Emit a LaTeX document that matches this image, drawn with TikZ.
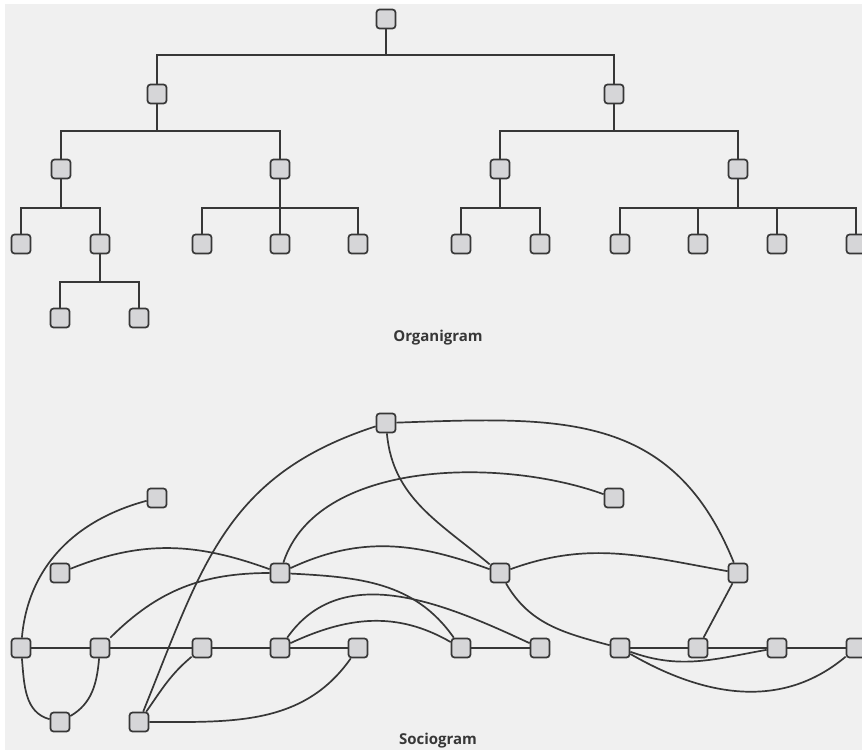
\documentclass[tikz,border=0pt]{standalone}
\usepackage{fontspec}
\newfontfamily\captionfont{Open Sans}
\definecolor{diagbg}{RGB}{240,240,240}
\definecolor{diagfill}{RGB}{214,214,216}
\definecolor{diagline}{RGB}{55,55,55}
\tikzset{
  member/.style={draw=diagline, fill=diagfill, rounded corners=3pt, minimum size=19pt, inner sep=0pt, line width=1.7pt},
  tie/.style={draw=diagline, line width=1.7pt},
  title/.style={font=\captionfont\bfseries\fontsize{15}{18}\selectfont, text=diagline, anchor=base}
}
\begin{document}
\begin{tikzpicture}[x=1pt, y=1pt]
  \useasboundingbox (0,0) rectangle (862,-750);
  \fill[diagbg] (5,-4) rectangle (862,-750);

  % organigram
  \node[member] (root) at (386,-19) {};
  \node[member] (o1) at (157,-94) {};
  \node[member] (o2) at (614,-94) {};
  \node[member] (o11) at (61,-169) {};
  \node[member] (o12) at (280,-169) {};
  \node[member] (o21) at (500,-169) {};
  \node[member] (o22) at (738,-169) {};
  \node[member] (o111) at (21,-244) {};
  \node[member] (o112) at (100,-244) {};
  \node[member] (o121) at (202,-244) {};
  \node[member] (o122) at (280,-244) {};
  \node[member] (o123) at (358,-244) {};
  \node[member] (o211) at (461,-244) {};
  \node[member] (o212) at (540,-244) {};
  \node[member] (o221) at (620,-244) {};
  \node[member] (o222) at (698,-244) {};
  \node[member] (o223) at (777,-244) {};
  \node[member] (o224) at (856,-244) {};
  \node[member] (o1121) at (60,-318) {};
  \node[member] (o1122) at (139,-318) {};

  \draw[tie] (root) -- ++(0,-36) -| (o1);
  \draw[tie] (root) -- ++(0,-36) -| (o2);
  \draw[tie] (o1) -- ++(0,-37) -| (o11);
  \draw[tie] (o1) -- ++(0,-37) -| (o12);
  \draw[tie] (o2) -- ++(0,-37) -| (o21);
  \draw[tie] (o2) -- ++(0,-37) -| (o22);
  \draw[tie] (o11) -- ++(0,-39) -| (o111);
  \draw[tie] (o11) -- ++(0,-39) -| (o112);
  \draw[tie] (o12) -- ++(0,-39) -| (o121);
  \draw[tie] (o12) -- ++(0,-39) -| (o122);
  \draw[tie] (o12) -- ++(0,-39) -| (o123);
  \draw[tie] (o21) -- ++(0,-39) -| (o211);
  \draw[tie] (o21) -- ++(0,-39) -| (o212);
  \draw[tie] (o22) -- ++(0,-39) -| (o221);
  \draw[tie] (o22) -- ++(0,-39) -| (o222);
  \draw[tie] (o22) -- ++(0,-39) -| (o223);
  \draw[tie] (o22) -- ++(0,-39) -| (o224);
  \draw[tie] (o112) -- ++(0,-38) -| (o1121);
  \draw[tie] (o112) -- ++(0,-38) -| (o1122);

  \node[title] (orglabel) at (438,-341) {Organigram};

  % sociogram
  \node[member] (sa) at (386,-423) {};
  \node[member] (sb) at (157,-498) {};
  \node[member] (sh) at (614,-498) {};
  \node[member] (sc) at (60,-573) {};
  \node[member] (sd) at (280,-573) {};
  \node[member] (si) at (500,-573) {};
  \node[member] (sj) at (738,-573) {};
  \node[member] (r1) at (21,-648) {};
  \node[member] (r2) at (100,-648) {};
  \node[member] (r3) at (202,-648) {};
  \node[member] (r4) at (280,-648) {};
  \node[member] (r5) at (358,-648) {};
  \node[member] (r6) at (461,-648) {};
  \node[member] (r7) at (540,-648) {};
  \node[member] (r8) at (620,-648) {};
  \node[member] (r9) at (698,-648) {};
  \node[member] (r10) at (777,-648) {};
  \node[member] (r11) at (856,-648) {};
  \node[member] (sf) at (60,-722) {};
  \node[member] (sg) at (139,-722) {};

  \draw[tie] (r1) -- (r2) -- (r3) -- (r4) -- (r5);
  \draw[tie] (r6) -- (r7);
  \draw[tie] (r8) -- (r9) -- (r10) -- (r11);
  \draw[tie] (sj) -- (r9);
  \draw[tie] (sa) to[out=198, in=68, looseness=1.1] (sg);
  \draw[tie] (sa) to[out=-85, in=140] (si);
  \draw[tie] (sa) to[out=2, in=112, looseness=1.15] (sj);
  \draw[tie] (sb) to[out=195, in=85] (r1);
  \draw[tie] (sc) to[out=22, in=160] (sd);
  \draw[tie] (sd) to[out=72, in=160, looseness=0.85] (sh);
  \draw[tie] (sd) to[out=25, in=160] (si);
  \draw[tie] (r2) to[out=45, in=180] (sd);
  \draw[tie] (sd) to[out=-3, in=125] (r6);
  \draw[tie] (r4) to[out=55, in=155] (r7);
  \draw[tie] (r4) to[out=25, in=150] (r6);
  \draw[tie] (r1) to[out=-85, in=165] (sf);
  \draw[tie] (r2) to[out=-95, in=30] (sf);
  \draw[tie] (sg) to[out=55, in=-140] (r3);
  \draw[tie] (sg) to[out=0, in=-125] (r5);
  \draw[tie] (si) to[out=-60, in=165] (r8);
  \draw[tie] (si) to[out=20, in=170] (sj);
  \draw[tie] (r8) to[out=-20, in=190] (r10);
  \draw[tie] (r8) to[out=-30, in=-140] (r11);

  \node[title] (soclabel) at (438,-744) {Sociogram};
\end{tikzpicture}
\end{document}
